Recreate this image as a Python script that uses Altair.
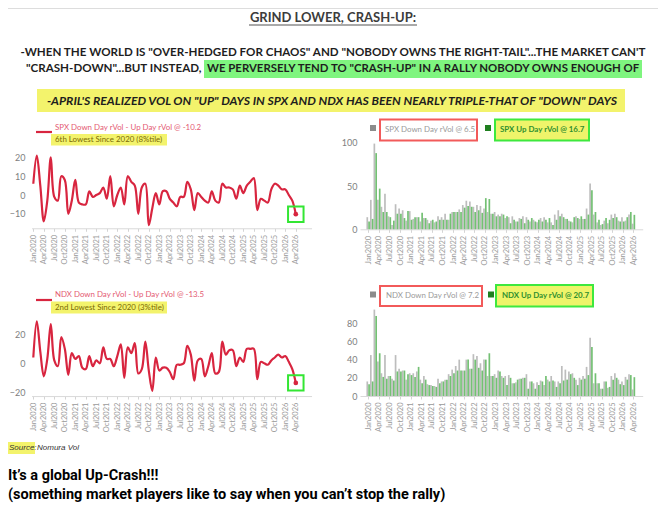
import json
import altair as alt
import pandas as pd

# ---------------- data ----------------
months = list(range(76))  # Jan2020 .. Apr2026
quarter_labels = [f"{m}{y}" for y in range(2020, 2027) for m in ["Jan", "Apr", "Jul", "Oct"]][:26]

spx_diff = [6, 21, 5, -14, -3, 20, -1, -3, 10, 8,
            -10, -3, 8, -4, -5, -5, 2, -1, 0, 1,
            4, -2, 10, -6, 0, 4, -5, 10, 7, 5,
            -10, 4, 6, -16, -7, 1, -5, 2, 2, -2,
            -4, -6, -1, -1, 7, 3, -8, 1, -1, -3,
            -4, 2, -3, -4, 6, 4, 4, 3, -2, 5,
            1, 5, 7, 9, -8, -2, -3, -4, 3, 6,
            5, 3, 3, 0, -3, -10.2]
ndx_diff = [4, 29, 8, -9, 3, 27, 2, -2, 18, 10,
            -8, 7, 3, 5, -3, -4, 5, -2, 2, 0,
            11, 3, 3, -2, 5, 13, -10, 11, 7, 14,
            -7, -4, 15, -5, -19, 4, -5, -3, -3, -6,
            -11, -1, -1, 0, 12, 6, -12, 2, 3, -9,
            -2, 7, -7, -6, 15, 6, 9, 9, -2, 4,
            1, 10, 10, 10, -11, 1, 0, -1, 2, 4,
            6, 4, 5, 1, -4, -13.5]
spx_down = [14, 34, 99, 34, 26, 41, 15, 5, 29, 24,
            22, 10, 21, 12, 14, 9, 13, 11, 10, 8,
            15, 14, 18, 11, 20, 20, 23, 28, 33, 32,
            26, 28, 27, 24, 20, 18, 20, 17, 18, 13,
            14, 15, 9, 13, 15, 14, 9, 11, 8, 13,
            14, 8, 8, 17, 22, 18, 12, 10, 8, 15,
            12, 12, 24, 53, 17, 8, 5, 10, 7, 17,
            18, 10, 14, 10, 17, 6.5]
spx_up = [9, 12, 88, 47, 20, 20, 14, 10, 18, 18,
          13, 21, 11, 14, 14, 19, 13, 7, 11, 9,
          11, 11, 11, 18, 20, 20, 20, 25, 27, 26,
          20, 22, 19, 36, 35, 18, 15, 15, 17, 15,
          7, 11, 9, 12, 7, 11, 13, 9, 11, 9,
          11, 13, 5, 11, 15, 14, 12, 9, 14, 13,
          15, 12, 17, 45, 20, 11, 6, 13, 11, 13,
          14, 9, 9, 14, 20, 16.7]
ndx_down = [16, 45, 95, 38, 25, 45, 22, 19, 45, 30,
            28, 18, 25, 25, 27, 18, 22, 13, 12, 11,
            19, 16, 18, 24, 29, 33, 40, 28, 40, 30,
            46, 44, 36, 40, 22, 22, 24, 28, 22, 22,
            23, 14, 15, 19, 20, 24, 16, 14, 15, 17,
            12, 18, 22, 16, 16, 33, 29, 27, 25, 18,
            20, 22, 32, 64, 14, 14, 8, 16, 9, 22,
            25, 18, 16, 21, 24, 7.2]
ndx_up = [13, 16, 88, 47, 21, 19, 22, 17, 27, 27,
          28, 24, 23, 21, 32, 14, 18, 12, 11, 10,
          14, 16, 18, 22, 25, 28, 28, 28, 40, 30,
          40, 31, 28, 40, 47, 22, 20, 27, 20, 12,
          20, 14, 18, 19, 20, 8, 16, 8, 12, 16,
          22, 16, 17, 10, 14, 17, 18, 24, 20, 12,
          18, 19, 23, 54, 25, 14, 8, 16, 10, 18,
          20, 13, 12, 18, 23, 20.7]

df = pd.DataFrame({"i": months, "spx_diff": spx_diff, "ndx_diff": ndx_diff,
                   "spx_down": spx_down, "spx_up": spx_up,
                   "ndx_down": ndx_down, "ndx_up": ndx_up})

# ---------------- layout helpers ----------------
H = 500
def X(r):
    return r - 2
def Y(r):
    return r - 8

LAB = "Lato"
one = alt.InlineData(values=[{"k": 1}])

def txt(s, x, y, size, color, weight="normal", style="normal", align="left", font=LAB):
    return alt.Chart(one).mark_text(text=s, align=align, baseline="middle", fontSize=size,
                                    color=color, fontWeight=weight, fontStyle=style,
                                    font=font).encode(x=alt.value(X(x)), y=alt.value(Y(y)))

def box(x1, x2, y1, y2, fill, stroke=None, sw=0):
    kw = dict(fill=fill, opacity=1)
    if stroke:
        kw.update(stroke=stroke, strokeWidth=sw)
    return alt.Chart(one).mark_rect(**kw).encode(
        x=alt.value(X(x1)), x2=alt.value(X(x2)), y=alt.value(Y(y1)), y2=alt.value(Y(y2)))

def hline(x1, x2, y, color, sw):
    return alt.Chart(one).mark_rule(color=color, strokeWidth=sw).encode(
        x=alt.value(X(x1)), x2=alt.value(X(x2)), y=alt.value(Y(y)))

label_expr = json.dumps(quarter_labels) + "[floor(datum.value/3)]"

def x_axis(y_ref):
    return alt.Axis(orient="bottom", offset=Y(y_ref) - H, values=list(range(0, 76, 3)),
                    labelExpr=label_expr, labelAngle=-90, labelFontSize=7.5,
                    labelColor="#9a9a9a", labelFont=LAB, tickSize=3, tickColor="#d4d4d4",
                    domainColor="#d9d9d9", labelPadding=3, labelOverlap=False,
                    labelFlush=False, grid=False, title=None)

def y_axis(x_ref, vals):
    return alt.Axis(orient="left", offset=-X(x_ref), values=vals, labelFontSize=9,
                    labelColor="#808080", labelFont=LAB, labelPadding=3, ticks=False,
                    domain=False, grid=False, title=None)

RED = "#d8253f"
LIME = "#33e633"

def line_panel(field, ys, ydom, yvals):
    xsc = alt.Scale(domain=[-0.5, 79.5], range=[X(31.55), X(311.55)], nice=False, zero=False)
    ysc = alt.Scale(domain=ydom, range=[Y(ys[0]), Y(ys[1])], nice=False, zero=False)
    base = alt.Chart(df)
    line = base.mark_line(interpolate="catmull-rom", color=RED, strokeWidth=2.2).encode(
        x=alt.X("i:Q", scale=xsc, axis=x_axis(ys[0])),
        y=alt.Y(f"{field}:Q", scale=ysc, axis=y_axis(28, yvals)))
    dot = base.transform_filter("datum.i == 75").mark_point(
        filled=True, color=RED, size=22, opacity=1).encode(
        x=alt.X("i:Q", scale=xsc, axis=None), y=alt.Y(f"{field}:Q", scale=ysc, axis=None))
    sq = base.transform_filter("datum.i == 75").mark_point(
        shape="square", filled=False, color=LIME, size=240, strokeWidth=2, opacity=1).encode(
        x=alt.X("i:Q", scale=xsc, axis=None), y=alt.Y(f"{field}:Q", scale=ysc, axis=None))
    return [line, dot, sq]

def bar_panel(fdown, fup, ys, ydom, yvals):
    xsc = alt.Scale(domain=[-0.9, 76.2], range=[X(360.0), X(642.7)], nice=False, zero=False)
    ysc = alt.Scale(domain=ydom, range=[Y(ys[0]), Y(ys[1])], nice=False)
    base = alt.Chart(df)
    down = base.mark_bar(color="#bdbdbd", width=1.7, xOffset=-0.9).encode(
        x=alt.X("i:Q", scale=xsc, axis=x_axis(ys[0])),
        y=alt.Y(f"{fdown}:Q", scale=ysc, axis=y_axis(360, yvals)))
    up = base.mark_bar(color="#74c074", width=1.7, xOffset=0.9).encode(
        x=alt.X("i:Q", scale=xsc, axis=None),
        y=alt.Y(f"{fup}:Q", scale=ysc, axis=None))
    return [down, up]

LEG = 7.9
layers = []
# ---- header ----
layers += [
    box(204, 642, 60, 78, "#7ff57f"),
    box(37, 625, 89, 112, "#f3f36c"),
    txt("GRIND LOWER, CRASH-UP:", 333, 18, 13, "#3c3c3c", weight="bold", align="center"),
    hline(249, 417, 25, "#555555", 1.2),
    txt("-WHEN THE WORLD IS \"OVER-HEDGED FOR CHAOS\" AND \"NOBODY OWNS THE RIGHT-TAIL\"...THE MARKET CAN'T",
        333, 53, 11.6, "#1e1e1e", weight="bold", align="center"),
    txt("\"CRASH-DOWN\"...BUT INSTEAD,", 26, 69, 11.6, "#1e1e1e", weight="bold"),
    txt("WE PERVERSELY TEND TO \"CRASH-UP\" IN A RALLY NOBODY OWNS ENOUGH OF", 207, 69, 11.4,
        "#1e1e1e", weight="bold"),
    txt("-APRIL'S REALIZED VOL ON \"UP\" DAYS IN SPX AND NDX HAS BEEN NEARLY TRIPLE-THAT OF \"DOWN\" DAYS",
        332, 101, 12.2, "#1e1e1e", weight="bold", style="italic", align="center"),
]
# ---- legends ----
layers += [
    hline(36, 52, 132, RED, 2.2),
    txt("SPX Down Day rVol - Up Day rVol @ -10.2", 55, 128, LEG, "#e45a72"),
    box(51, 167, 134, 145.5, "#f3f36c"),
    txt("6th Lowest Since 2020 (8%tile)", 55, 140, LEG, "#7a6a05"),
    box(370, 376, 125, 131, "#8c8c8c"),
    box(380, 477, 119.5, 140.5, "#ffffff", "#f25a5a", 2),
    txt("SPX Down Day rVol @ 6.5", 385, 130, LEG, "#9a9a9a"),
    box(485, 491, 125, 131, "#1f7f1f"),
    box(495, 589, 119.5, 140.5, "#eef46a", "#3ee83e", 2),
    txt("SPX Up Day rVol @ 16.7", 500, 130, LEG, "#2f8f2f", weight="bold"),

    hline(36, 52, 300, RED, 2.2),
    txt("NDX Down Day rVol - Up Day rVol @ -13.5", 55, 295, LEG, "#e45a72"),
    box(51, 167, 301.5, 313.5, "#f3f36c"),
    txt("2nd Lowest Since 2020 (3%tile)", 55, 307.5, LEG, "#7a6a05"),
    box(370, 376, 291.5, 297.5, "#8c8c8c"),
    box(380, 482, 286, 306, "#ffffff", "#f25a5a", 2),
    txt("NDX Down Day rVol @ 7.2", 386, 296, LEG, "#9a9a9a"),
    box(488, 494, 291.5, 297.5, "#1f7f1f"),
    box(496, 593, 285, 306.5, "#eef46a", "#3ee83e", 2),
    txt("NDX Up Day rVol @ 20.7", 502, 296, LEG, "#2f8f2f", weight="bold"),
]
# ---- footer ----
FOOT = "Roboto"
layers += [
    box(8, 35, 442, 454, "#f3f36c"),
    txt("Source:", 9, 448, 8, "#333333", style="italic", font="Liberation Sans"),
    txt("Nomura Vol", 37, 448, 8, "#333333", style="italic", font="Liberation Sans"),
    txt("It\u2019s a global Up-Crash!!!", 8, 476, 14.5, "#000000", weight="bold", font=FOOT),
    txt("(something market players like to say when you can\u2019t stop the rally)", 8, 495, 14.5,
        "#000000", weight="bold", font=FOOT),
]
# ---- charts ----
layers += line_panel("spx_diff", (228.28, 153.64), [-17.7, 22], [-10, 0, 10, 20])
layers += line_panel("ndx_diff", (396.07, 318.35), [-22.6, 31], [-20, 0, 20])
layers += bar_panel("spx_down", "spx_up", (229.3, 138.4), [0, 105], [0, 50, 100])
layers += bar_panel("ndx_down", "ndx_up", (396.0, 309.6), [0, 95], [0, 20, 40, 60, 80])

chart = alt.layer(*layers).resolve_scale(x="independent", y="independent").properties(
    width=656, height=H, autosize=alt.AutoSizeParams(type="none"),
    padding={"left": -6, "top": 0, "right": 0, "bottom": 0},
).configure_view(stroke=None).configure(background="white")

chart.save("out.html", embed_options={"renderer": "svg", "actions": False})
